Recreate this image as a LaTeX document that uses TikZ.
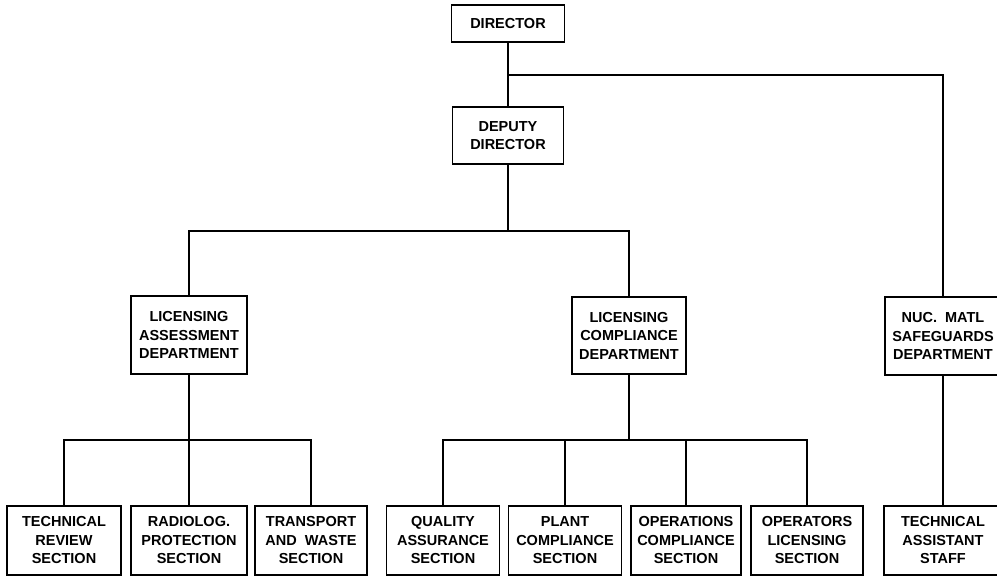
\documentclass[tikz,border=0pt]{standalone}
\usepackage{fontspec}
\setmainfont{Liberation Sans}
\begin{document}
\begin{tikzpicture}[x=1pt,y=-1pt,
  box/.style={draw,line width=1.8pt,rectangle,align=center,inner sep=0pt,
    font=\fontsize{14.5}{18.5}\selectfont\bfseries},
  conn/.style={line width=2pt}]
\useasboundingbox (0,0) rectangle (997,577);
% top
\node[box,minimum width=113pt,minimum height=37pt] (dir) at (508,23.5) {DIRECTOR};
\node[box,minimum width=111pt,minimum height=57pt] (dep) at (508,135.5) {DEPUTY\\DIRECTOR};
% departments
\node[box,minimum width=116pt,minimum height=78pt] (asd) at (189,335) {LICENSING\\ASSESSMENT\\DEPARTMENT};
\node[box,minimum width=114pt,minimum height=77pt] (lcd) at (629,335.5) {LICENSING\\COMPLIANCE\\DEPARTMENT};
\node[box,minimum width=116pt,minimum height=78pt] (nuc) at (943,336) {NUC.~~MATL\\SAFEGUARDS\\DEPARTMENT};
% sections
\node[box,minimum width=114pt,minimum height=69pt] (tr) at (64,540.5) {TECHNICAL\\REVIEW\\SECTION};
\node[box,minimum width=116pt,minimum height=69pt] (rp) at (189,540.5) {RADIOLOG.\\PROTECTION\\SECTION};
\node[box,minimum width=112pt,minimum height=69pt] (tw) at (311,540.5) {TRANSPORT\\AND~~WASTE\\SECTION};
\node[box,minimum width=113pt,minimum height=69pt] (qa) at (443,540.5) {QUALITY\\ASSURANCE\\SECTION};
\node[box,minimum width=113pt,minimum height=69pt] (pc) at (565,540.5) {PLANT\\COMPLIANCE\\SECTION};
\node[box,minimum width=110pt,minimum height=69pt] (oc) at (686,540.5) {OPERATIONS\\COMPLIANCE\\SECTION};
\node[box,minimum width=112pt,minimum height=69pt] (ol) at (807,540.5) {OPERATORS\\LICENSING\\SECTION};
\node[box,minimum width=118pt,minimum height=69pt] (ta) at (943,540.5) {TECHNICAL\\ASSISTANT\\STAFF};
% branch points
\coordinate (b0) at (508,75);
\coordinate (b1) at (508,231);
\coordinate (b2) at (189,440);
\coordinate (b3) at (629,440);
% connectors
\draw[conn] (dir.south) -- (dep.north);
\draw[conn] (b0) -| (nuc.north);
\draw[conn] (dep.south) -- (b1);
\draw[conn] (asd.north) |- (b1) -| (lcd.north);
\draw[conn] (asd.south) -- (b2);
\draw[conn] (tr.north) |- (b2) -| (tw.north);
\draw[conn] (b2) -- (rp.north);
\draw[conn] (lcd.south) -- (b3);
\draw[conn] (qa.north) |- (b3) -| (ol.north);
\draw[conn] (pc.north) -- (pc.north |- b3);
\draw[conn] (oc.north) -- (oc.north |- b3);
\draw[conn] (nuc.south) -- (ta.north);
\end{tikzpicture}
\end{document}
